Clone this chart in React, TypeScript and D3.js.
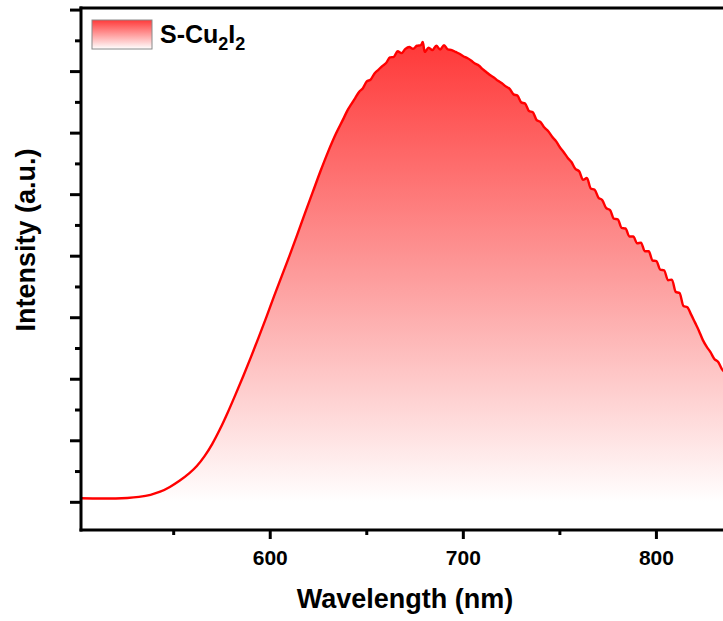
import React from "react";
import * as d3 from "d3";

const wavelengths: number[] = [
  502, 508, 514, 520, 526, 532, 538, 543, 548, 553, 558, 562, 566, 570, 574, 578, 582, 586, 590, 594,
  598, 602, 606, 610, 614, 618, 622, 626, 630, 634, 638,
  640, 642, 644, 646, 648, 650, 652, 654, 656, 658, 660, 662, 664, 666, 668, 670, 672, 674, 676, 678,
  679, 680, 682, 684, 686, 688, 690, 692, 694, 696, 698, 700, 702, 704, 706, 708, 710, 712, 714, 716,
  718, 720, 722, 724, 726, 728, 730, 732, 734, 736, 738, 740, 742, 744, 746, 748, 750, 752, 754, 756,
  758, 760, 762, 764, 766, 768, 770, 772, 774, 776, 778, 780, 782, 784, 786, 788, 790, 792, 794, 796,
  798, 800, 802, 804, 806, 808, 810, 812, 814, 816, 818, 820, 822, 824, 826, 828, 830, 832, 834, 836,
];

const intensities: number[] = [
  0.065, 0.063, 0.062, 0.063, 0.07, 0.088, 0.122, 0.172, 0.25, 0.35, 0.47, 0.59, 0.75, 0.95, 1.19, 1.46, 1.75, 2.05, 2.36, 2.68,
  3.01, 3.35, 3.68, 4.01, 4.35, 4.7, 5.04, 5.38, 5.7, 5.99, 6.24,
  6.37, 6.47, 6.57, 6.67, 6.73, 6.84, 6.87, 6.97, 7.03, 7.09, 7.14, 7.23, 7.24, 7.33, 7.3, 7.37, 7.4, 7.37, 7.42, 7.43,
  7.48, 7.32, 7.39, 7.35, 7.42, 7.36, 7.43, 7.36, 7.35, 7.32, 7.29, 7.25, 7.22, 7.18, 7.13, 7.1, 7.04, 6.99, 6.94, 6.9,
  6.85, 6.81, 6.76, 6.72, 6.63, 6.61, 6.5, 6.48, 6.36, 6.34, 6.21, 6.18, 6.09, 6.03, 5.94, 5.87, 5.77, 5.69, 5.6, 5.53,
  5.42, 5.38, 5.24, 5.27, 5.1, 5.08, 4.95, 4.91, 4.78, 4.75, 4.61, 4.6, 4.46, 4.45, 4.32, 4.32, 4.21, 4.22, 4.08, 4.08,
  3.93, 3.92, 3.78, 3.77, 3.61, 3.62, 3.42, 3.4, 3.19, 3.17, 3.05, 2.92, 2.79, 2.64, 2.53, 2.44, 2.33, 2.28, 2.16, 2.1,
];

const xMajorTicks: number[] = [600, 700, 800];
const xMinorTicks: number[] = [550, 650, 750];
const yMajorTicks: number[] = [0, 1, 2, 3, 4, 5, 6, 7, 8];
const yMinorTicks: number[] = [0.5, 1.5, 2.5, 3.5, 4.5, 5.5, 6.5, 7.5];

const xLabel = "Wavelength (nm)";
const yLabel = "Intensity (a.u.)";

const W = 723;
const H = 621;
const L = 81;
const R = 724;
const T = 8;
const B = 530;
const FONT = "'Liberation Sans', Arial, sans-serif";

export default function App() {
  const x = d3.scaleLinear().domain([502, 835]).range([L, R]);
  const y = d3.scaleLinear().domain([-0.45, 8.05]).range([B, T - 1]);
  const pts = wavelengths.map((w, i) => [w, intensities[i]] as [number, number]);
  const line = d3
    .line<[number, number]>()
    .curve(d3.curveMonotoneX)
    .x((d) => x(d[0]))
    .y((d) => y(d[1]));
  const area = d3
    .area<[number, number]>()
    .curve(d3.curveMonotoneX)
    .x((d) => x(d[0]))
    .y0(y(0))
    .y1((d) => y(d[1]));

  return (
    <svg
      width={W}
      height={H}
      style={{ position: "absolute", left: 0, top: 0, background: "#fff" }}
    >
      <defs>
        <linearGradient id="fillGrad" x1="0" y1="0" x2="0" y2="1">
          <stop offset="0" stopColor="#ff3838" />
          <stop offset="0.5" stopColor="#fd9a9a" />
          <stop offset="1" stopColor="#ffffff" />
        </linearGradient>
        <linearGradient id="legGrad" x1="0" y1="0" x2="0" y2="1">
          <stop offset="0" stopColor="#ff3a3a" />
          <stop offset="1" stopColor="#ffffff" />
        </linearGradient>
        <clipPath id="plotClip">
          <rect x={L} y={T} width={R - L} height={B - T} />
        </clipPath>
      </defs>

      <g clipPath="url(#plotClip)">
        <path d={area(pts) || ""} fill="url(#fillGrad)" />
        <path d={line(pts) || ""} fill="none" stroke="#ff0000" strokeWidth={2.4} strokeLinejoin="round" />
      </g>

      {/* spines */}
      <line x1={L - 1.5} x2={W} y1={T} y2={T} stroke="#000" strokeWidth={3} />
      <line x1={L - 1.5} x2={W} y1={B} y2={B} stroke="#000" strokeWidth={3} />
      <line x1={L} x2={L} y1={T - 1.5} y2={B + 1.5} stroke="#000" strokeWidth={3} />

      {/* y ticks */}
      {yMajorTicks.map((t) => (
        <line key={"ym" + t} x1={L - 11} x2={L} y1={y(t)} y2={y(t)} stroke="#000" strokeWidth={3} />
      ))}
      {yMinorTicks.map((t) => (
        <line key={"yn" + t} x1={L - 6} x2={L} y1={y(t)} y2={y(t)} stroke="#000" strokeWidth={3} />
      ))}

      {/* x ticks */}
      {xMajorTicks.map((t) => (
        <g key={"xm" + t}>
          <line x1={x(t)} x2={x(t)} y1={B} y2={B + 9} stroke="#000" strokeWidth={3} />
          <text
            x={x(t)}
            y={565}
            textAnchor="middle"
            fontFamily={FONT}
            fontWeight="bold"
            fontSize={21}
            fill="#000"
          >
            {t}
          </text>
        </g>
      ))}
      {xMinorTicks.map((t) => (
        <line key={"xn" + t} x1={x(t)} x2={x(t)} y1={B} y2={B + 5} stroke="#000" strokeWidth={3} />
      ))}

      {/* axis titles */}
      <text
        x={405}
        y={608}
        textAnchor="middle"
        fontFamily={FONT}
        fontWeight="bold"
        fontSize={27}
        fill="#000"
      >
        {xLabel}
      </text>
      <text
        transform="translate(35,240) rotate(-90)"
        textAnchor="middle"
        fontFamily={FONT}
        fontWeight="bold"
        fontSize={27}
        fill="#000"
      >
        {yLabel}
      </text>

      {/* legend */}
      <rect x={92} y={20} width={60} height={29} fill="url(#legGrad)" stroke="#8a8a8a" strokeWidth={1} />
      <text x={160} y={43} fontFamily={FONT} fontWeight="bold" fontSize={25} fill="#000">
        S-Cu
        <tspan fontSize={18} dy={7}>2</tspan>
        <tspan dy={-7}>I</tspan>
        <tspan fontSize={18} dy={7}>2</tspan>
      </text>
    </svg>
  );
}
